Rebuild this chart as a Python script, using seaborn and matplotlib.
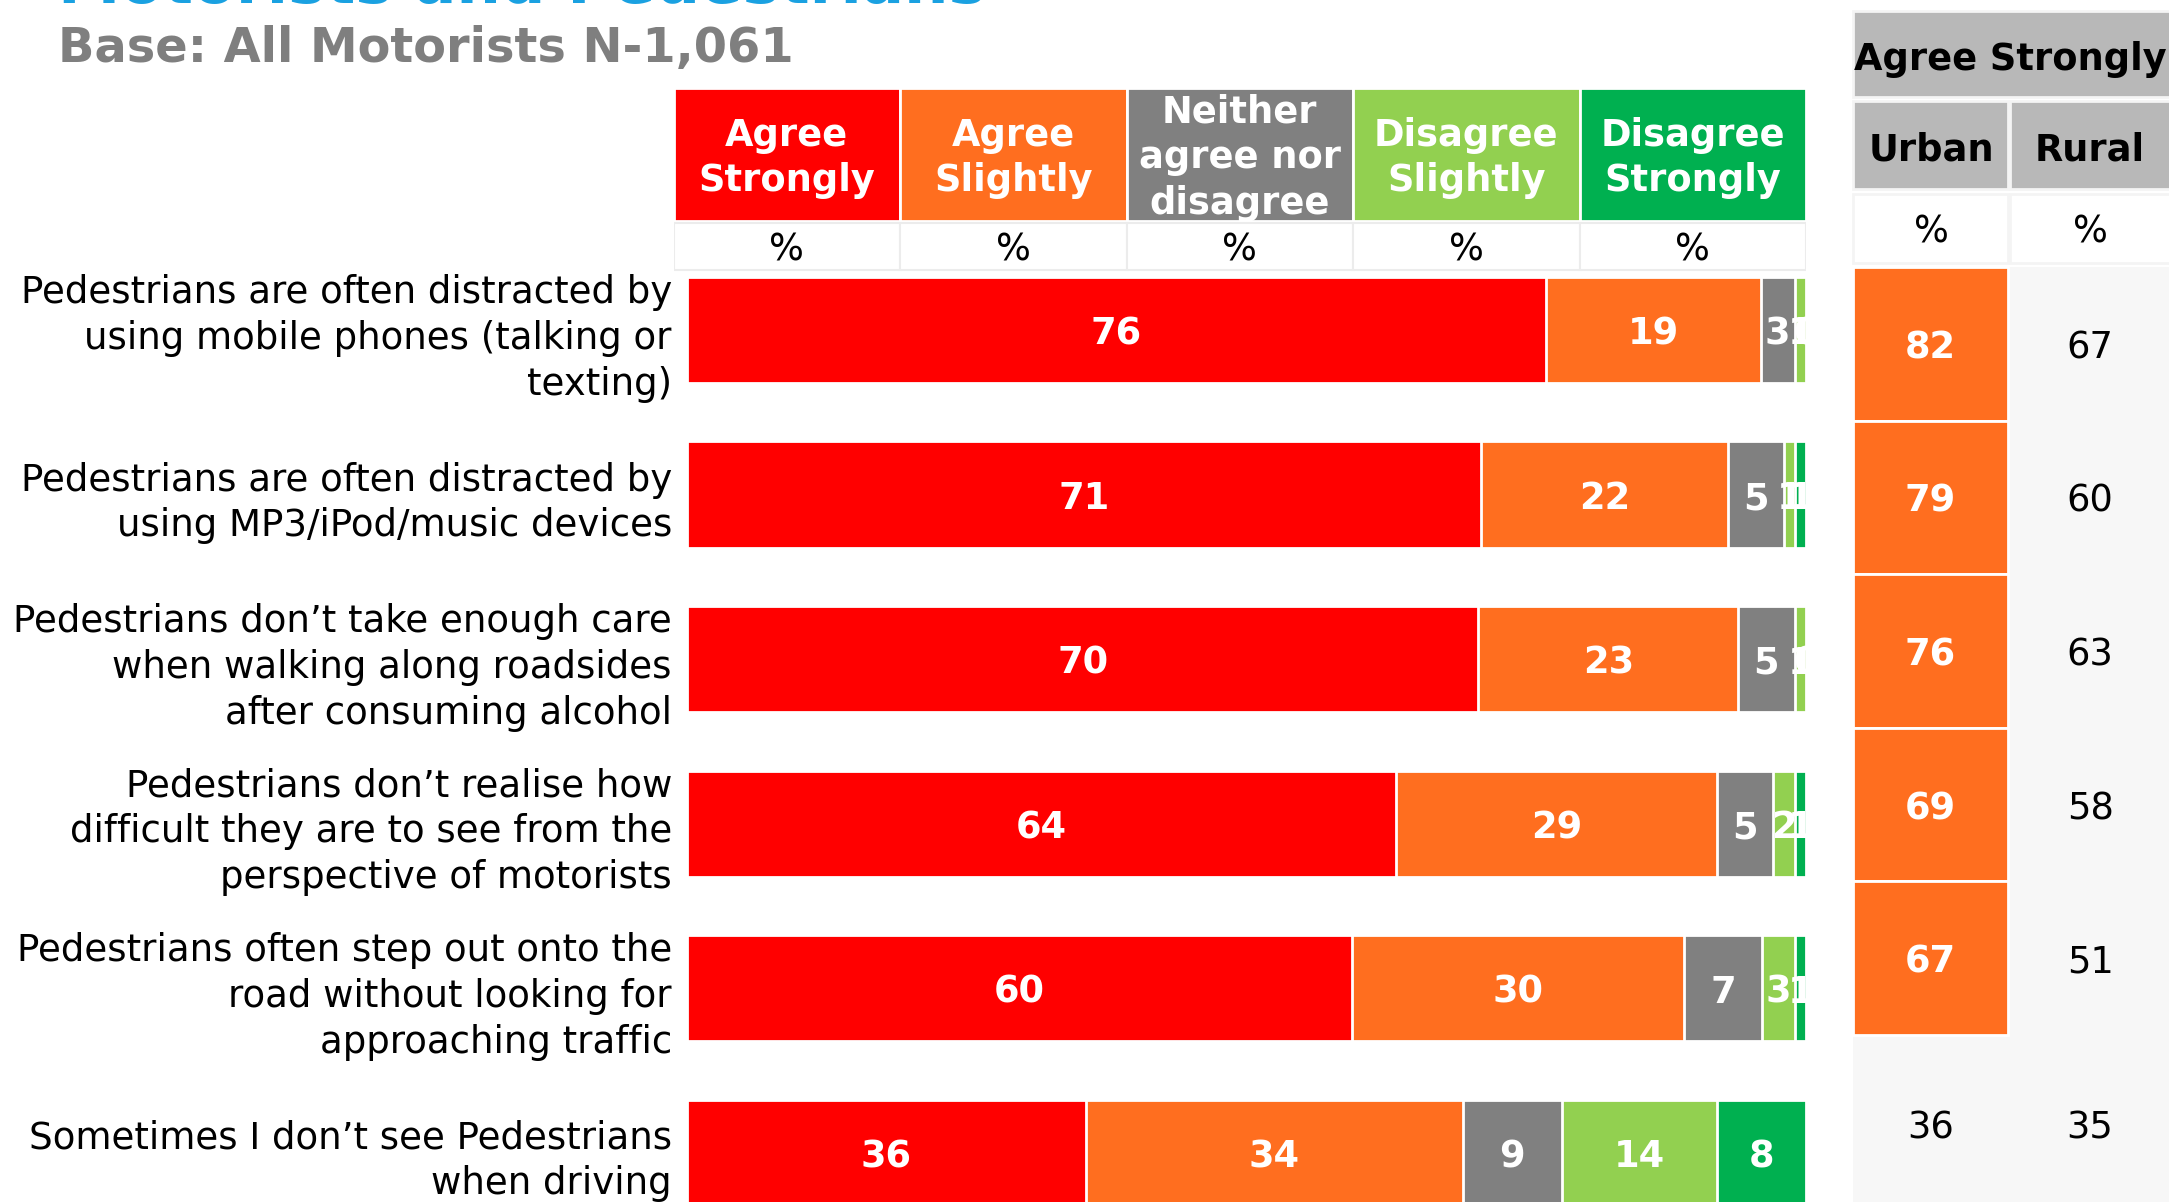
import numpy as np
import pandas as pd
import matplotlib
matplotlib.use('Agg')
import matplotlib.pyplot as plt
from matplotlib.patches import Rectangle
import seaborn as sns

# Daten
statements = [
    'Pedestrians are often distracted by\nusing mobile phones (talking or\ntexting)',
    'Pedestrians are often distracted by\nusing MP3/iPod/music devices',
    'Pedestrians don\u2019t take enough care\nwhen walking along roadsides\nafter consuming alcohol',
    'Pedestrians don\u2019t realise how\ndifficult they are to see from the\nperspective of motorists',
    'Pedestrians often step out onto the\nroad without looking for\napproaching traffic',
    'Sometimes I don\u2019t see Pedestrians\nwhen driving',
]
responses = ['Agree\nStrongly', 'Agree\nSlightly', 'Neither\nagree nor\ndisagree',
             'Disagree\nSlightly', 'Disagree\nStrongly']
agree_strongly = [76, 71, 70, 64, 60, 36]
agree_slightly = [19, 22, 23, 29, 30, 34]
neither = [3, 5, 5, 5, 7, 9]
disagree_slightly = [1, 1, 1, 2, 3, 14]
disagree_strongly = [0, 1, 0, 1, 1, 8]
urban = [82, 79, 76, 69, 67, 36]
rural = [67, 60, 63, 58, 51, 35]
urban_highlight = [True, True, True, True, True, False]

colors = ['#ff0000', '#ff6e1f', '#808080', '#92d050', '#00b050']
FS = 26.5

sns.set_style('white')
plt.rcParams['font.family'] = ['DejaVu Sans']
plt.rcParams['text.color'] = 'black'

W, H = 2169, 1202
fig = plt.figure(figsize=(W / 100, H / 100), dpi=100)


def box(x0, y0, x1, y1):
    # pixel box (von oben gemessen) -> figure rect
    return [x0 / W, 1 - y1 / H, (x1 - x0) / W, (y1 - y0) / H]


df = pd.DataFrame({
    'as': agree_strongly, 'asl': agree_slightly, 'n': neither,
    'ds': disagree_slightly, 'dst': disagree_strongly,
})
pct = df.div(df.sum(axis=1), axis=0) * 100
cum = pct.cumsum(axis=1)

# Titel
fig.text(58 / W, 1 - 3 / H, 'Motorists and Pedestrians', fontsize=45,
         fontweight='bold', color='#1aa1e1', va='baseline')
fig.text(58 / W, 1 - 62 / H, 'Base: All Motorists N-1,061', fontsize=34.5,
         fontweight='bold', color='#7f7f7f', va='baseline')

# gestapelte Balken
ax = fig.add_axes(box(687, 247.7, 1806, 1235))
for k in reversed(range(5)):
    sns.barplot(x=cum.iloc[:, k].values, y=statements, color=colors[k],
                orient='h', width=0.645, saturation=1, edgecolor='white',
                linewidth=2, ax=ax)
for i in range(len(statements)):
    for k in range(5):
        cx = cum.iloc[i, k] - pct.iloc[i, k] / 2
        ax.text(cx, i, str(df.iloc[i, k]), ha='center', va='center_baseline',
                color='white', fontsize=FS, fontweight='bold')
ax.set_xlim(0, 100)
ax.set_ylim(5.5, -0.5)
ax.set_xticks([])
ax.set_xlabel('')
ax.set_ylabel('')
sns.despine(ax=ax, left=True, bottom=True)
ax.tick_params(axis='y', length=0, pad=10.8, labelsize=26.75, labelcolor='black')
for t in ax.get_yticklabels():
    t.set_linespacing(1.3)

# Kopfzeile
hax = fig.add_axes(box(673.5, 86, 1806, 272))
hax.set_xlim(0, 5)
hax.set_ylim(272, 86)
hax.axis('off')
for k in range(5):
    hax.add_patch(Rectangle((k, 88), 1, 133, facecolor=colors[k],
                            edgecolor='white', lw=2))
    hax.text(k + 0.5, 158, responses[k], ha='center', va='center',
             color='white', fontsize=FS, fontweight='bold', linespacing=1.3)
for k in range(5):
    hax.add_patch(Rectangle((k, 223), 1, 47, facecolor='white',
                            edgecolor='#ececec', lw=1.5))
    hax.text(k + 0.5, 250, '%', ha='center', va='center', color='black',
             fontsize=FS)

# rechte Tabelle - Kopf
rh = fig.add_axes(box(1851, 0, 2169, 267))
rh.set_xlim(1851, 2169)
rh.set_ylim(267, 0)
rh.axis('off')
rh.add_patch(Rectangle((1853, 11), 320, 86, facecolor='#b8b8b8',
                       edgecolor='#f4f4f4', lw=2))
rh.text(2010, 60, 'Agree Strongly', ha='center', va='center',
        fontsize=FS, fontweight='bold', color='black')
rh.add_patch(Rectangle((1853, 101), 155, 88, facecolor='#b8b8b8',
                       edgecolor='#f4f4f4', lw=2))
rh.add_patch(Rectangle((2010, 101), 165, 88, facecolor='#b8b8b8',
                       edgecolor='#f4f4f4', lw=2))
rh.text(1931, 150, 'Urban', ha='center', va='center', fontsize=FS,
        fontweight='bold', color='black')
rh.text(2090, 150, 'Rural', ha='center', va='center', fontsize=FS,
        fontweight='bold', color='black')
rh.add_patch(Rectangle((1853, 194), 155, 69, facecolor='white',
                       edgecolor='#f4f4f4', lw=2))
rh.add_patch(Rectangle((2010, 194), 165, 69, facecolor='white',
                       edgecolor='#f4f4f4', lw=2))
rh.text(1931, 232, '%', ha='center', va='center', fontsize=FS)
rh.text(2090, 232, '%', ha='center', va='center', fontsize=FS)

# rechte Tabelle - Werte
row_h = 153.6
rb = fig.add_axes(box(1853, 267, 2169, 1202))
rb.set_facecolor('#f7f7f7')
rb.set_xlim(0, 316 / 155)
rb.set_ylim(935 / row_h, 0)
for s in rb.spines.values():
    s.set_visible(False)
rb.set_xticks([])
rb.set_yticks([])
rows = np.arange(len(urban))
hl = [r for r in rows if urban_highlight[r]]
rb.barh([r + 0.5 for r in hl], 1, left=0, height=1, color=colors[1],
        edgecolor='white', linewidth=2)
for r in rows:
    yy = r + 0.5 + (0.08 if r == rows[-1] else 0)
    if urban_highlight[r]:
        rb.text(0.5, yy, str(urban[r]), ha='center', va='center_baseline',
                color='white', fontsize=FS, fontweight='bold')
    else:
        rb.text(0.5, yy, str(urban[r]), ha='center', va='center_baseline',
                color='black', fontsize=FS)
    rb.text(1.53, yy, str(rural[r]), ha='center', va='center_baseline',
            color='black', fontsize=FS)

plt.savefig('out.png', dpi=100)
